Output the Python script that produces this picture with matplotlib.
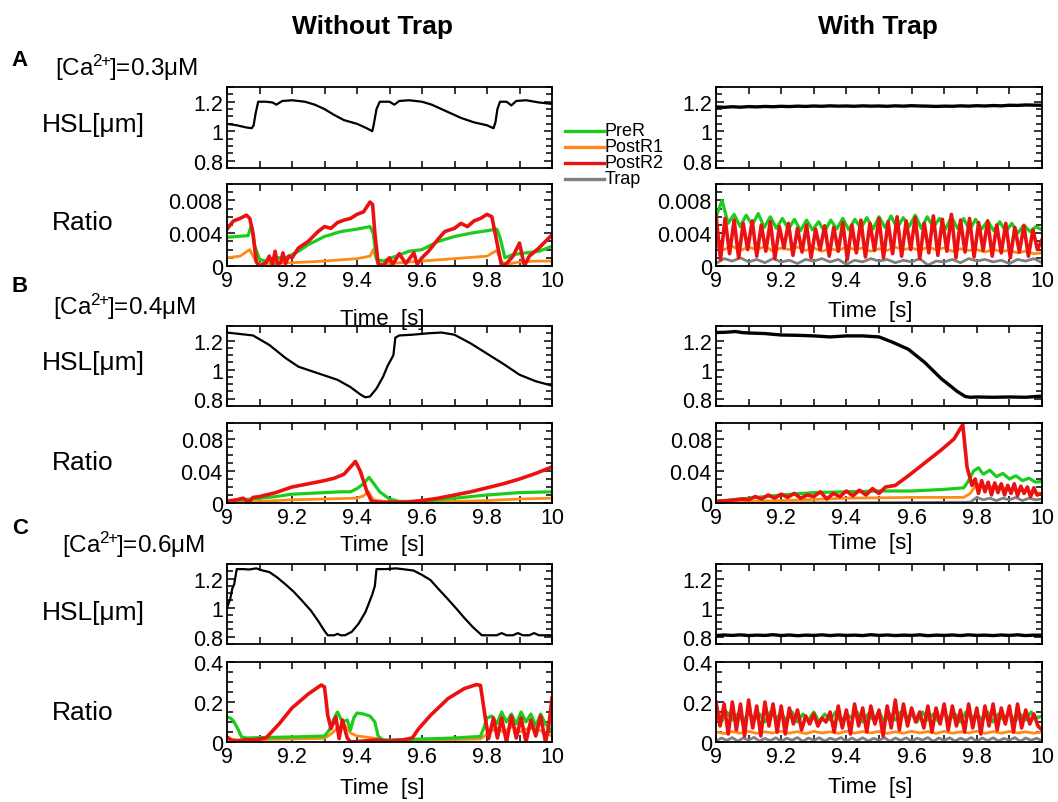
import numpy as np
import matplotlib
matplotlib.use("Agg")
import matplotlib.pyplot as plt
from matplotlib.ticker import MultipleLocator, FuncFormatter
from matplotlib.lines import Line2D

plt.rcParams['font.family'] = ['Liberation Sans', 'DejaVu Sans']
plt.rcParams['mathtext.fontset'] = 'custom'
plt.rcParams['mathtext.rm'] = 'Liberation Sans'
plt.rcParams['mathtext.it'] = 'Liberation Sans:italic'

# ---------------- data ----------------
# Row A, [Ca2+]=0.3uM, without trap
hsl_a_t = [9.0, 9.03, 9.06, 9.076, 9.082, 9.088, 9.096, 9.12, 9.14, 9.152, 9.17, 9.2, 9.24, 9.27, 9.3,
           9.33, 9.36, 9.4, 9.43, 9.447, 9.452, 9.46, 9.47, 9.5, 9.515, 9.53, 9.56, 9.6, 9.63, 9.67,
           9.72, 9.76, 9.8, 9.82, 9.826, 9.832, 9.84, 9.86, 9.875, 9.89, 9.92, 9.96, 10.0]
hsl_a_v = [1.05, 1.04, 1.025, 1.02, 1.04, 1.12, 1.20, 1.20, 1.195, 1.18, 1.205, 1.21, 1.20, 1.18, 1.15,
           1.11, 1.075, 1.05, 1.02, 1.0, 1.05, 1.15, 1.20, 1.2, 1.18, 1.205, 1.21, 1.20, 1.18, 1.14,
           1.09, 1.06, 1.04, 1.02, 1.06, 1.15, 1.2, 1.2, 1.175, 1.205, 1.21, 1.195, 1.185]
red_a_t = [9.0, 9.02, 9.04, 9.06, 9.07, 9.08, 9.09, 9.1, 9.12, 9.13, 9.14, 9.148, 9.155, 9.165, 9.172,
           9.18, 9.19, 9.2, 9.22, 9.25, 9.28, 9.3, 9.32, 9.34, 9.36, 9.38, 9.4, 9.42, 9.44, 9.448,
           9.455, 9.465, 9.48, 9.5, 9.51, 9.53, 9.55, 9.575, 9.585, 9.6, 9.62, 9.65, 9.67, 9.7, 9.72,
           9.74, 9.76, 9.78, 9.8, 9.815, 9.83, 9.845, 9.86, 9.88, 9.9, 9.915, 9.93, 9.96, 9.98, 10.0]
red_a_v = [0.0045, 0.0055, 0.0058, 0.0062, 0.0058, 0.0040, 0.0005, 0.0, 0.0004, 0.0012, 0.0002, 0.0018,
           0.0003, 0.0004, 0.0016, 0.0003, 0.0012, 0.0010, 0.0022, 0.0030, 0.0042, 0.0048, 0.0046, 0.0053,
           0.0056, 0.0058, 0.0063, 0.0066, 0.0078, 0.0075, 0.0040, 0.0003, 0.0, 0.0010, 0.0002, 0.0015,
           0.0003, 0.0016, 0.0002, 0.0010, 0.0018, 0.0033, 0.0042, 0.0046, 0.0052, 0.0048, 0.0055, 0.0058,
           0.0063, 0.0060, 0.0030, 0.0, 0.0003, 0.0012, 0.0028, 0.0, 0.0012, 0.0022, 0.0030, 0.0038]
green_a_t = [9.0, 9.03, 9.065, 9.075, 9.085, 9.1, 9.12, 9.15, 9.18, 9.2, 9.22, 9.25, 9.3, 9.35, 9.4,
             9.44, 9.45, 9.46, 9.48, 9.52, 9.56, 9.6, 9.65, 9.7, 9.75, 9.8, 9.83, 9.84, 9.855, 9.88,
             9.92, 9.96, 10.0]
green_a_v = [0.0035, 0.0036, 0.0037, 0.0050, 0.0025, 0.0008, 0.0006, 0.0010, 0.0010, 0.0014, 0.0018,
             0.0026, 0.0036, 0.0042, 0.0045, 0.0048, 0.0040, 0.0008, 0.0006, 0.0012, 0.0018, 0.0020,
             0.0030, 0.0036, 0.0040, 0.0043, 0.0045, 0.0035, 0.0010, 0.0014, 0.0016, 0.0018, 0.0024]
orange_a_t = [9.0, 9.04, 9.07, 9.08, 9.095, 9.15, 9.2, 9.3, 9.4, 9.44, 9.45, 9.465, 9.5, 9.6, 9.7,
              9.8, 9.83, 9.845, 9.86, 9.9, 9.95, 10.0]
orange_a_v = [0.0010, 0.0012, 0.0020, 0.0012, 0.0003, 0.0003, 0.0004, 0.0006, 0.0009, 0.0012, 0.0020,
              0.0002, 0.0003, 0.0006, 0.0009, 0.0012, 0.0019, 0.0005, 0.0002, 0.0005, 0.0006, 0.0006]

# Row A, with trap (evenly sampled over 9..10 s)
hsl_a_trap = [1.165, 1.162, 1.166, 1.163, 1.167, 1.165, 1.168, 1.166, 1.169, 1.167, 1.170, 1.168, 1.171,
              1.169, 1.172, 1.170, 1.171, 1.169, 1.172, 1.170, 1.171, 1.169, 1.172, 1.170, 1.173, 1.171,
              1.170, 1.168, 1.170, 1.169, 1.172, 1.170, 1.173, 1.171, 1.174, 1.172, 1.176, 1.175, 1.178,
              1.177, 1.176]
red_a_trap = [0.0062, 0.0008, 0.0058, 0.0015, 0.0056, 0.0010, 0.0052, 0.0020, 0.0055, 0.0012,
              0.0050, 0.0018, 0.0054, 0.0009, 0.0048, 0.0022, 0.0052, 0.0013, 0.0046, 0.0017,
              0.0050, 0.0010, 0.0045, 0.0020, 0.0049, 0.0012, 0.0047, 0.0018, 0.0053, 0.0008,
              0.0050, 0.0016, 0.0056, 0.0011, 0.0052, 0.0019, 0.0058, 0.0010, 0.0054, 0.0015,
              0.0060, 0.0012, 0.0055, 0.0020, 0.0059, 0.0009, 0.0052, 0.0016, 0.0061, 0.0013,
              0.0057, 0.0018, 0.0063, 0.0010, 0.0056, 0.0017, 0.0058, 0.0011, 0.0053, 0.0019,
              0.0055, 0.0012, 0.0050, 0.0016, 0.0052, 0.0010, 0.0047, 0.0017, 0.0049, 0.0012,
              0.0044, 0.0020, 0.0032]
green_a_trap = [0.0060, 0.0080, 0.0052, 0.0063, 0.0048, 0.0062, 0.0050, 0.0064, 0.0047, 0.0060,
                0.0046, 0.0058, 0.0045, 0.0057, 0.0043, 0.0056, 0.0044, 0.0054, 0.0042, 0.0056,
                0.0045, 0.0058, 0.0044, 0.0057, 0.0046, 0.0059, 0.0045, 0.0060, 0.0047, 0.0061,
                0.0046, 0.0059, 0.0048, 0.0062, 0.0046, 0.0060, 0.0047, 0.0058, 0.0045, 0.0060,
                0.0046, 0.0058, 0.0044, 0.0057, 0.0045, 0.0055, 0.0043, 0.0054, 0.0042, 0.0052,
                0.0040, 0.0050, 0.0042, 0.0048, 0.0044]
orange_a_trap = [0.0025, 0.0020, 0.0024, 0.0019, 0.0023, 0.0020, 0.0024, 0.0018, 0.0022, 0.0020,
                 0.0023, 0.0019, 0.0022, 0.0018, 0.0021, 0.0019, 0.0023, 0.0020, 0.0022, 0.0018,
                 0.0021, 0.0019, 0.0023, 0.0020, 0.0022, 0.0019, 0.0023, 0.0020, 0.0022, 0.0018,
                 0.0021, 0.0019, 0.0020, 0.0017, 0.0020, 0.0018, 0.0019, 0.0016, 0.0018, 0.0015,
                 0.0016]
gray_a_trap = [0.0003, 0.0009, 0.0006, 0.0010, 0.0005, 0.0008, 0.0004, 0.0009, 0.0005, 0.0007,
               0.0003, 0.0008, 0.0006, 0.0009, 0.0005, 0.0008, 0.0002, 0.0007, 0.0005, 0.0009,
               0.0006, 0.0008, 0.0004, 0.0007, 0.0005, 0.0009, 0.0001, 0.0006, 0.0005, 0.0008,
               0.0004, 0.0009, 0.0006, 0.0008, 0.0005, 0.0007, 0.0003, 0.0008, 0.0006, 0.0009,
               0.0004]

# Row B, [Ca2+]=0.4uM, without trap
hsl_b_t = [9.0, 9.04, 9.08, 9.13, 9.18, 9.22, 9.28, 9.34, 9.38, 9.41, 9.425, 9.44, 9.46, 9.48, 9.495,
           9.505, 9.512, 9.518, 9.53, 9.57, 9.62, 9.66, 9.7, 9.75, 9.8, 9.85, 9.9, 9.95, 10.0]
hsl_b_v = [1.255, 1.245, 1.235, 1.17, 1.08, 1.02, 0.975, 0.93, 0.88, 0.83, 0.81, 0.815, 0.87, 0.95, 1.03,
           1.07, 1.10, 1.22, 1.235, 1.24, 1.25, 1.255, 1.24, 1.18, 1.11, 1.04, 0.965, 0.92, 0.89]
red_b_t = [9.0, 9.03, 9.05, 9.06, 9.068, 9.08, 9.1, 9.15, 9.2, 9.25, 9.3, 9.33, 9.36, 9.38, 9.395,
           9.41, 9.43, 9.445, 9.47, 9.5, 9.55, 9.6, 9.65, 9.7, 9.75, 9.8, 9.85, 9.9, 9.95, 10.0]
red_b_v = [0.002, 0.004, 0.006, 0.003, 0.001, 0.007, 0.008, 0.013, 0.020, 0.024, 0.028, 0.031, 0.036,
           0.045, 0.052, 0.040, 0.015, 0.002, 0.001, 0.001, 0.001, 0.003, 0.006, 0.010, 0.014, 0.019,
           0.024, 0.030, 0.037, 0.045]
green_b_t = [9.0, 9.05, 9.1, 9.15, 9.2, 9.25, 9.3, 9.35, 9.38, 9.4, 9.42, 9.437, 9.45, 9.47, 9.5,
             9.53, 9.6, 9.7, 9.8, 9.9, 10.0]
green_b_v = [0.003, 0.004, 0.006, 0.008, 0.011, 0.012, 0.013, 0.014, 0.014, 0.018, 0.024, 0.032, 0.025,
             0.014, 0.005, 0.002, 0.002, 0.006, 0.010, 0.013, 0.014]
orange_b_t = [9.0, 9.1, 9.2, 9.3, 9.4, 9.42, 9.435, 9.45, 9.5, 9.6, 9.7, 9.8, 9.9, 10.0]
orange_b_v = [0.001, 0.002, 0.004, 0.005, 0.006, 0.009, 0.014, 0.004, 0.001, 0.001, 0.002, 0.003,
              0.005, 0.006]

# Row B, with trap
hsl_b_trap_t = [9.0, 9.03, 9.06, 9.08, 9.1, 9.15, 9.2, 9.25, 9.3, 9.35, 9.4, 9.45, 9.5, 9.54, 9.59,
                9.64, 9.69, 9.74, 9.765, 9.78, 9.8, 9.85, 9.9, 9.95, 9.98, 10.0]
hsl_b_trap_v = [1.255, 1.257, 1.262, 1.255, 1.252, 1.248, 1.238, 1.236, 1.232, 1.225, 1.232, 1.232,
                1.225, 1.19, 1.14, 1.05, 0.94, 0.85, 0.815, 0.81, 0.812, 0.81, 0.812, 0.81, 0.815, 0.818]
red_b_trap_t = [9.0, 9.04, 9.08, 9.1, 9.12, 9.14, 9.16, 9.18, 9.2, 9.22, 9.24, 9.26, 9.28, 9.3, 9.32,
                9.34, 9.36, 9.38, 9.4, 9.42, 9.44, 9.46, 9.48, 9.5, 9.52, 9.55, 9.59, 9.64, 9.69, 9.73,
                9.757, 9.77, 9.785, 9.795, 9.805, 9.815, 9.825, 9.835, 9.845, 9.855, 9.865, 9.875,
                9.885, 9.895, 9.905, 9.915, 9.925, 9.935, 9.945, 9.955, 9.965, 9.975, 9.985, 10.0]
red_b_trap_v = [0.002, 0.003, 0.005, 0.004, 0.008, 0.005, 0.010, 0.006, 0.011, 0.007, 0.012, 0.006,
                0.010, 0.008, 0.014, 0.005, 0.012, 0.008, 0.015, 0.009, 0.016, 0.010, 0.018, 0.012,
                0.020, 0.022, 0.034, 0.050, 0.066, 0.080, 0.098, 0.045, 0.022, 0.030, 0.012, 0.028,
                0.014, 0.026, 0.010, 0.025, 0.013, 0.024, 0.010, 0.022, 0.012, 0.024, 0.009, 0.021,
                0.012, 0.020, 0.008, 0.019, 0.010, 0.012]
green_b_trap_t = [9.0, 9.1, 9.2, 9.3, 9.4, 9.5, 9.6, 9.7, 9.76, 9.775, 9.79, 9.805, 9.82, 9.84, 9.86,
                  9.88, 9.9, 9.92, 9.94, 9.96, 9.98, 10.0]
green_b_trap_v = [0.002, 0.006, 0.010, 0.013, 0.014, 0.015, 0.015, 0.017, 0.019, 0.028, 0.040, 0.044,
                  0.036, 0.041, 0.033, 0.037, 0.030, 0.034, 0.028, 0.031, 0.026, 0.027]
orange_b_trap_t = [9.0, 9.2, 9.4, 9.6, 9.76, 9.78, 9.8, 9.83, 9.86, 9.9, 9.94, 9.97, 10.0]
orange_b_trap_v = [0.001, 0.003, 0.006, 0.007, 0.007, 0.012, 0.024, 0.019, 0.021, 0.017, 0.016,
                   0.013, 0.012]
gray_b_trap_t = [9.0, 9.5, 9.78, 9.79, 9.8, 9.82, 9.84, 9.86, 9.88, 9.9, 9.92, 9.94, 9.96, 9.98, 10.0]
gray_b_trap_v = [0.0, 0.0005, 0.001, 0.004, 0.007, 0.004, 0.006, 0.003, 0.006, 0.004, 0.007, 0.003,
                 0.006, 0.004, 0.005]

# Row C, [Ca2+]=0.6uM, without trap
hsl_c_t = [9.0, 9.01, 9.016, 9.022, 9.03, 9.05, 9.068, 9.09, 9.11, 9.13, 9.153, 9.18, 9.205, 9.23,
           9.258, 9.28, 9.3, 9.31, 9.33, 9.34, 9.35, 9.363, 9.384, 9.405, 9.426, 9.447, 9.455, 9.46,
           9.49, 9.52, 9.55, 9.574, 9.6, 9.626, 9.65, 9.679, 9.705, 9.73, 9.757, 9.784, 9.8, 9.83,
           9.845, 9.86, 9.88, 9.895, 9.91, 9.93, 9.945, 9.96, 9.98, 10.0]
hsl_c_v = [1.0, 1.06, 1.13, 1.16, 1.265, 1.265, 1.262, 1.27, 1.255, 1.245, 1.21, 1.16, 1.11, 1.05,
           0.98, 0.91, 0.84, 0.81, 0.81, 0.82, 0.81, 0.81, 0.834, 0.89, 0.97, 1.09, 1.15, 1.265,
           1.265, 1.27, 1.262, 1.255, 1.225, 1.19, 1.13, 1.06, 0.995, 0.93, 0.865, 0.81, 0.81, 0.81,
           0.825, 0.81, 0.81, 0.825, 0.81, 0.81, 0.825, 0.81, 0.81, 0.81]
red_c_t = [9.0, 9.015, 9.03, 9.06, 9.08, 9.1, 9.12, 9.16, 9.2, 9.25, 9.29, 9.3, 9.31, 9.32, 9.335,
           9.345, 9.355, 9.37, 9.38, 9.42, 9.46, 9.5, 9.54, 9.57, 9.59, 9.626, 9.68, 9.73, 9.767,
           9.78, 9.795, 9.805, 9.82, 9.832, 9.845, 9.86, 9.875, 9.89, 9.905, 9.92, 9.935, 9.95,
           9.965, 9.98, 9.99, 10.0]
red_c_v = [0.025, 0.008, 0.005, 0.012, 0.01, 0.015, 0.02, 0.09, 0.17, 0.24, 0.285, 0.275, 0.133,
           0.067, 0.125, 0.017, 0.11, 0.02, 0.0, 0.005, 0.01, 0.005, 0.01, 0.02, 0.067, 0.133, 0.217,
           0.267, 0.287, 0.283, 0.117, 0.017, 0.12, 0.02, 0.12, 0.0, 0.13, 0.02, 0.12, 0.0, 0.11,
           0.03, 0.13, 0.0, 0.08, 0.22]
green_c_t = [9.0, 9.01, 9.02, 9.035, 9.045, 9.06, 9.1, 9.2, 9.3, 9.315, 9.33, 9.34, 9.355, 9.37,
             9.38, 9.39, 9.4, 9.42, 9.44, 9.455, 9.465, 9.48, 9.5, 9.6, 9.7, 9.78, 9.79, 9.8, 9.815,
             9.83, 9.845, 9.86, 9.875, 9.89, 9.905, 9.92, 9.935, 9.95, 9.965, 9.98, 10.0]
green_c_v = [0.125, 0.12, 0.105, 0.06, 0.025, 0.02, 0.022, 0.025, 0.03, 0.06, 0.12, 0.15, 0.1, 0.11,
             0.06, 0.12, 0.145, 0.14, 0.13, 0.1, 0.03, 0.01, 0.01, 0.015, 0.02, 0.028, 0.07, 0.12,
             0.13, 0.09, 0.15, 0.1, 0.14, 0.09, 0.15, 0.1, 0.14, 0.08, 0.14, 0.09, 0.05]
orange_c_t = [9.0, 9.05, 9.1, 9.2, 9.3, 9.32, 9.34, 9.36, 9.38, 9.4, 9.45, 9.5, 9.6, 9.7, 9.78, 9.8,
              9.83, 9.85, 9.88, 9.9, 9.93, 9.96, 10.0]
orange_c_v = [0.015, 0.008, 0.012, 0.015, 0.018, 0.04, 0.07, 0.09, 0.045, 0.03, 0.02, 0.005, 0.01,
              0.012, 0.015, 0.04, 0.07, 0.05, 0.08, 0.05, 0.07, 0.06, 0.03]

# Row C, with trap
hsl_c_trap = [0.808, 0.812, 0.809, 0.813, 0.808, 0.811, 0.809, 0.814, 0.808, 0.812, 0.807, 0.811,
              0.809, 0.813, 0.808, 0.812, 0.809, 0.811, 0.808, 0.814, 0.809, 0.812, 0.808, 0.811,
              0.809, 0.813, 0.807, 0.811, 0.809, 0.812, 0.808, 0.813, 0.809, 0.811, 0.808, 0.812,
              0.809, 0.813, 0.808, 0.811, 0.810]
red_c_trap = [0.20, 0.08, 0.19, 0.04, 0.20, 0.06, 0.19, 0.03, 0.21, 0.07,
              0.18, 0.03, 0.20, 0.08, 0.19, 0.05, 0.18, 0.04, 0.17, 0.09,
              0.16, 0.06, 0.13, 0.09, 0.14, 0.08, 0.12, 0.10, 0.15, 0.05,
              0.18, 0.07, 0.16, 0.04, 0.19, 0.08, 0.17, 0.05, 0.18, 0.09,
              0.16, 0.03, 0.18, 0.07, 0.21, 0.06, 0.19, 0.08, 0.17, 0.10,
              0.15, 0.07, 0.18, 0.05, 0.17, 0.09, 0.19, 0.06, 0.18, 0.08,
              0.16, 0.05, 0.19, 0.07, 0.17, 0.04, 0.18, 0.08, 0.19, 0.06,
              0.17, 0.09, 0.18, 0.05, 0.19, 0.07, 0.16, 0.09, 0.14, 0.08,
              0.06]
green_c_trap = [0.14, 0.10, 0.15, 0.11, 0.14, 0.10, 0.15, 0.11, 0.14, 0.10, 0.15, 0.12, 0.14, 0.11,
                0.15, 0.10, 0.14, 0.11, 0.15, 0.10, 0.14, 0.11, 0.15, 0.10, 0.14, 0.12, 0.15, 0.10,
                0.14, 0.11, 0.15, 0.10, 0.14, 0.11, 0.15, 0.12, 0.14, 0.10, 0.15, 0.11, 0.14, 0.10,
                0.15, 0.11, 0.14, 0.10, 0.15, 0.12, 0.14, 0.11, 0.15, 0.10, 0.14, 0.11, 0.15, 0.10,
                0.14, 0.11, 0.15, 0.12, 0.13]
orange_c_trap = [0.050, 0.042, 0.052, 0.044, 0.053, 0.043, 0.051, 0.045, 0.054, 0.044, 0.052, 0.042,
                 0.053, 0.045, 0.051, 0.043, 0.054, 0.044, 0.052, 0.045, 0.053, 0.043, 0.051, 0.044,
                 0.054, 0.045, 0.052, 0.043, 0.053, 0.044, 0.051, 0.045, 0.054, 0.043, 0.052, 0.044,
                 0.053, 0.045, 0.051, 0.044, 0.050]
gray_c_trap = [0.005, 0.020, 0.008, 0.022, 0.004, 0.020, 0.010, 0.023, 0.005, 0.018, 0.007, 0.021,
               0.004, 0.019, 0.009, 0.022, 0.003, 0.020, 0.008, 0.021, 0.005, 0.019, 0.010, 0.022,
               0.004, 0.020, 0.007, 0.021, 0.005, 0.018, 0.009, 0.022, 0.004, 0.020, 0.008, 0.021,
               0.005, 0.019, 0.010, 0.022, 0.003, 0.020, 0.008, 0.021, 0.005, 0.019, 0.009, 0.022,
               0.004, 0.020, 0.007, 0.021, 0.005, 0.018, 0.009, 0.022, 0.004, 0.020, 0.008, 0.019,
               0.006]

legend_names = ['PreR', 'PostR1', 'PostR2', 'Trap']
ca_labels = ['0.3', '0.4', '0.6']
row_letters = ['A', 'B', 'C']

GREEN = '#1ccc1c'
ORANGE = '#ff8a17'
RED = '#ec1111'
GRAY = '#808080'

W, H = 1058, 803


def frame(left, top, right, bottom):
    # pixel box -> figure fraction rectangle
    return [left / W, 1 - bottom / H, (right - left) / W, (bottom - top) / H]


def fy(y):
    return 1 - y / H


def grid(vals):
    return np.linspace(9.0, 10.0, len(vals))


def style_axes(ax, ylim, yticks, yminor, show_x):
    ax.set_xlim(9, 10)
    ax.set_ylim(*ylim)
    ax.xaxis.set_major_locator(MultipleLocator(0.2))
    ax.xaxis.set_minor_locator(MultipleLocator(0.1))
    ax.set_yticks(yticks)
    ax.yaxis.set_minor_locator(MultipleLocator(yminor))
    fmt = FuncFormatter(lambda v, p: '%g' % round(v, 6))
    ax.xaxis.set_major_formatter(fmt)
    ax.yaxis.set_major_formatter(fmt)
    ax.tick_params(which='both', direction='in', top=True, right=True,
                   labelsize=15.5, width=1.1, pad=3, colors='black')
    ax.tick_params(axis='y', which='major', length=6)
    ax.tick_params(axis='y', which='minor', length=4)
    ax.tick_params(axis='x', which='both', length=5)
    ax.tick_params(axis='x', labelbottom=show_x)
    for s in ax.spines.values():
        s.set_linewidth(1.3)


def ratio_lines(ax, gray, orange, green, red):
    # each argument is (t, v); drawn back to front
    if gray is not None:
        ax.plot(gray[0], gray[1], color=GRAY, lw=2.0)
    ax.plot(orange[0], orange[1], color=ORANGE, lw=2.0)
    ax.plot(green[0], green[1], color=GREEN, lw=2.3)
    ax.plot(red[0], red[1], color=RED, lw=2.6)


fig = plt.figure(figsize=(W / 100, H / 100), dpi=100)

left_x = (227, 552)
right_x = (716, 1042)
rows_px = [((88, 169), (185, 267)), ((327, 407), (424, 504)), ((565, 645), (663, 743))]
ratio_lims = [(0, 0.01), (0, 0.1), (0, 0.4)]
ratio_ticks = [[0, 0.004, 0.008], [0, 0.04, 0.08], [0, 0.2, 0.4]]
ratio_minor = [0.001, 0.01, 0.05]

hsl_left = [(hsl_a_t, hsl_a_v), (hsl_b_t, hsl_b_v), (hsl_c_t, hsl_c_v)]
hsl_right = [(grid(hsl_a_trap), hsl_a_trap), (hsl_b_trap_t, hsl_b_trap_v), (grid(hsl_c_trap), hsl_c_trap)]
ratio_left = [
    (None, (orange_a_t, orange_a_v), (green_a_t, green_a_v), (red_a_t, red_a_v)),
    (None, (orange_b_t, orange_b_v), (green_b_t, green_b_v), (red_b_t, red_b_v)),
    (None, (orange_c_t, orange_c_v), (green_c_t, green_c_v), (red_c_t, red_c_v)),
]
ratio_right = [
    ((grid(gray_a_trap), gray_a_trap), (grid(orange_a_trap), orange_a_trap),
     (grid(green_a_trap), green_a_trap), (grid(red_a_trap), red_a_trap)),
    ((gray_b_trap_t, gray_b_trap_v), (orange_b_trap_t, orange_b_trap_v),
     (green_b_trap_t, green_b_trap_v), (red_b_trap_t, red_b_trap_v)),
    ((grid(gray_c_trap), gray_c_trap), (grid(orange_c_trap), orange_c_trap),
     (grid(green_c_trap), green_c_trap), (grid(red_c_trap), red_c_trap)),
]

for i, ((h_top, h_bot), (r_top, r_bot)) in enumerate(rows_px):
    for col, (x0, x1) in enumerate([left_x, right_x]):
        ax_h = fig.add_axes(frame(x0, h_top, x1, h_bot))
        t, v = (hsl_left if col == 0 else hsl_right)[i]
        ax_h.plot(t, v, color='black', lw=1.6 if col == 0 else 2.4)
        style_axes(ax_h, (0.75, 1.3), [0.8, 1.0, 1.2], 0.05, False)

        ax_r = fig.add_axes(frame(x0, r_top, x1, r_bot))
        ratio_lines(ax_r, *(ratio_left if col == 0 else ratio_right)[i])
        style_axes(ax_r, ratio_lims[i], ratio_ticks[i], ratio_minor[i], True)

# column titles
fig.text(372 / W, fy(27), 'Without Trap', fontsize=19, fontweight='bold', ha='center', va='center')
fig.text(878 / W, fy(27), 'With Trap', fontsize=19, fontweight='bold', ha='center', va='center')

# row annotations
letter_y = [61, 287, 529]
ca_pos = [(55, 68), (53, 307), (62, 545)]
hsl_y = [125, 363, 613]
ratio_y = [223, 463, 713]
for i in range(3):
    fig.text(20 / W, fy(letter_y[i]), row_letters[i], fontsize=16, fontweight='bold',
             ha='center', va='center')
    fig.text(ca_pos[i][0] / W, fy(ca_pos[i][1]),
             r'[Ca$^{2\!\!+\!\!}$]=' + ca_labels[i] + 'μM',
             fontsize=17.5, ha='left', va='center')
    fig.text(93 / W, fy(hsl_y[i]), 'HSL[μm]', fontsize=19, ha='center', va='center')
    fig.text(83 / W, fy(ratio_y[i]), 'Ratio', fontsize=19, ha='center', va='center')

# time axis labels
time_left_y = [320, 545, 789]
time_right_y = [312, 543, 788]
for i in range(3):
    fig.text(382 / W, fy(time_left_y[i]), 'Time  [s]', fontsize=16, ha='center', va='center')
    fig.text(870 / W, fy(time_right_y[i]), 'Time  [s]', fontsize=16, ha='center', va='center')

# legend between the columns
legend_colors = [GREEN, ORANGE, RED, GRAY]
legend_rows = [132, 148, 164, 180]
for name, c, y in zip(legend_names, legend_colors, legend_rows):
    fig.add_artist(Line2D([565 / W, 604 / W], [fy(y), fy(y)], color=c, lw=2.4))
    fig.text(605 / W, fy(y), name, fontsize=13, ha='left', va='center')

fig.savefig('out.png', dpi=100)
